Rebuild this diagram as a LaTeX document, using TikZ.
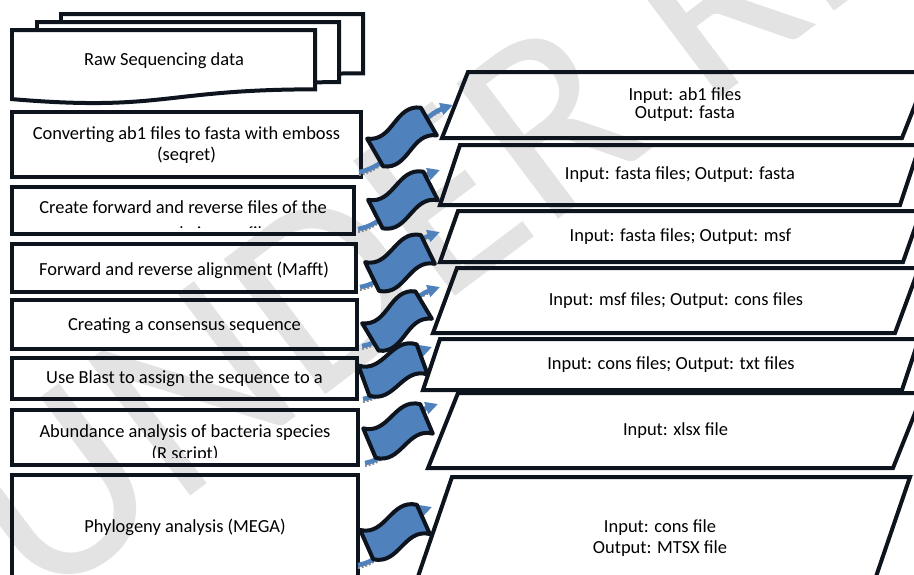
\documentclass[tikz,border=0pt]{standalone}
\usepackage{fontspec}
\setmainfont{Carlito}
\usetikzlibrary{arrows.meta,calc,fit}

\definecolor{flagblue}{RGB}{79,129,189}
\definecolor{inkline}{RGB}{13,20,30}

% one sheet of the stacked document: left, top, right, height
\newcommand\docsheet[4]{\draw[docbox] (#1,#2) -- (#3,#2) -- (#3,#2+0.802*#4) .. controls ({(#1+#3)/2},#2+0.802*#4) and ({(#1+#3)/2},#2+1.107*#4) .. (#1,#2+0.934*#4) -- cycle;}
% slanted in/out box: name, top-left, bottom-left, top length, text
\newcommand\iobox[5]{%
  \coordinate (#1-nw) at (#2);
  \coordinate (#1-sw) at (#3);
  \draw[iobox] (#1-nw) -- ++(#4,0) -- ($(#1-sw)+(#4,0)$) -- (#1-sw) -- cycle;
  \node[proctext] (#1) at ($(#1-nw)!0.5!(#1-sw)+(#4/2,0)$) {#5};}
% wavy banner over a step arrow: centre x, centre y, tilt
\newcommand\waveflag[3]{\draw[flag, shift={(#1,#2)}, rotate=#3] (-31,-16) .. controls (-10,0) and (10,-32) .. (31,-16) -- (31,16) .. controls (10,0) and (-10,32) .. (-31,16) -- cycle;}

\begin{document}
\begin{tikzpicture}[x=0.02cm, y=-0.02cm,
    procbox/.style={draw=inkline, line width=0.08cm, inner sep=0pt, outer sep=0pt},
    proctext/.style={font=\fontsize{10.5}{12}\selectfont, align=center, inner sep=0pt},
    docbox/.style={draw=inkline, fill=white, line width=0.08cm},
    iobox/.style={draw=inkline, line width=0.08cm},
    flag/.style={draw=inkline, fill=flagblue, line width=0.08cm, line join=round},
    steparrow/.style={draw=flagblue, line width=0.09cm, -{Triangle[length=0.25cm,width=0.24cm]}},
    arrowshade/.style={draw=black!45, densely dotted, line width=0.04cm},
    watermark/.style={text=black!11, font=\fontsize{150}{150}\selectfont, rotate=37, anchor=base west, inner sep=0pt}]
  %%%%% START %%%%%
  \useasboundingbox (0,0) rectangle (914,575);
  \clip (0,0) rectangle (914,575);

  \node[watermark] (mark) at (40,610) {UNDER REVIEW};

  % stacked raw data sheets
  \docsheet{61}{14}{363}{74}
  \docsheet{37}{22}{339}{75}
  \docsheet{12}{30}{315}{74}
  \node[proctext] (raw) at (164,61) {Raw Sequencing data};

  % pipeline steps
  \node[procbox, fit={(12,112) (361,177)}] (b1) {};
  \node[proctext] (b1txt) at ($(b1.center)+(0,1)$) {Converting ab1 files to fasta with emboss\\(seqret)};

  \node[procbox, fit={(12,187) (354,234)}] (b2) {};
  \begin{scope}
    \clip ($(b2.south west)+(2,-7)$) rectangle ($(b2.north east)+(-2,2)$);
    \node[proctext] (b2txt) at ($(b2.center)+(0,11)$) {Create forward and reverse files of the\\[0.09cm]same sample in one file};
  \end{scope}

  \node[procbox, fit={(12,244) (356,292)}] (b3) {};
  \node[proctext] (b3txt) at ($(b3.center)+(0,2)$) {Forward and reverse alignment (Mafft)};

  \node[procbox, fit={(12,300) (357,349)}] (b4) {};
  \node[proctext] (b4txt) at ($(b4.center)+(0,1)$) {Creating a consensus sequence};

  \node[procbox, fit={(12,358) (357,399)}] (b5) {};
  \node[proctext] (b5txt) at ($(b5.center)+(0,0)$) {Use Blast to assign the sequence to a};

  \node[procbox, fit={(12,410) (358,465)}] (b6) {};
  \begin{scope}
    \clip ($(b6.south west)+(2,-8)$) rectangle ($(b6.north east)+(-2,2)$);
    \node[proctext] (b6txt) at ($(b6.center)+(0,6)$) {Abundance analysis of bacteria species\\[0.03cm](R script)};
  \end{scope}

  \node[procbox, fit={(12,475) (358,580)}] (b7) {};
  \node[proctext] (b7txt) at (b7.center) {Phylogeny analysis (MEGA)};

  % inputs and outputs
  \iobox{p1}{468,72}{442,138}{460}{Input: ab1 files\\[-0.06cm]Output: fasta}
  \iobox{p2}{460,145}{440,205}{460}{Input: fasta files; Output: fasta}
  \iobox{p3}{458,211}{440,262}{463}{Input: fasta files; Output: msf}
  \iobox{p4}{457,268}{433,333}{462}{Input: msf files; Output: cons files}
  \iobox{p5}{440,339}{423,390}{479}{Input: cons files; Output: txt files}
  \iobox{p6}{458,393}{428,468}{465}{Input: xlsx file}
  \iobox{p7}{452,477}{410,600}{458}{Input: cons file\\Output: MTSX file}

  % step arrows
  \coordinate (t1) at ($(b1.south east)+(-2,-5)$);  \coordinate (h1) at ($(p1-nw)+(-15,33)$);
  \coordinate (t2) at ($(b2.south east)+(4,-5)$);   \coordinate (h2) at ($(p2-nw)+(-20,25)$);
  \coordinate (t3) at ($(b3.south east)+(4,-5)$);   \coordinate (h3) at ($(p3-nw)+(-18,21)$);
  \coordinate (t4) at ($(b4.south east)+(5,-3)$);   \coordinate (h4) at ($(p4-nw)+(-17,19)$);
  \coordinate (t5) at ($(b5.south east)+(6,0)$);    \coordinate (h5) at ($(p5-nw)+(-8,8)$);
  \coordinate (t6) at ($(b6.south east)+(7,-2)$);   \coordinate (h6) at ($(p6-nw)+(-20,11)$);
  \coordinate (t7) at ($(b7.south east)+(0,-15)$);  \coordinate (h7) at ($(p7-nw)+(-20,30)$);

  \draw[arrowshade] ($(t1)+(0,3)$) .. controls +(35,-6) and +(-35,12) .. ($(h1)+(-8,5)$);
  \draw[steparrow] (t1) .. controls +(35,-6) and +(-35,12) .. (h1);
  \waveflag{402}{137}{30}

  \draw[arrowshade] ($(t2)+(0,3)$) .. controls +(35,-6) and +(-35,12) .. ($(h2)+(-8,5)$);
  \draw[steparrow] (t2) .. controls +(35,-6) and +(-35,12) .. (h2);
  \waveflag{403}{200}{27}

  \draw[arrowshade] ($(t3)+(0,3)$) .. controls +(35,-6) and +(-35,12) .. ($(h3)+(-8,5)$);
  \draw[steparrow] (t3) .. controls +(35,-6) and +(-35,12) .. (h3);
  \waveflag{400}{263}{26}

  \draw[arrowshade] ($(t4)+(0,3)$) .. controls +(35,-6) and +(-35,12) .. ($(h4)+(-8,5)$);
  \draw[steparrow] (t4) .. controls +(35,-6) and +(-35,12) .. (h4);
  \waveflag{397}{321}{31}

  \draw[arrowshade] ($(t5)+(0,3)$) .. controls +(35,-6) and +(-35,12) .. ($(h5)+(-8,5)$);
  \draw[steparrow] (t5) .. controls +(35,-6) and +(-35,12) .. (h5);
  \waveflag{393}{370}{20}

  \draw[arrowshade] ($(t6)+(0,3)$) .. controls +(35,-6) and +(-35,12) .. ($(h6)+(-8,5)$);
  \draw[steparrow] (t6) .. controls +(35,-6) and +(-35,12) .. (h6);
  \waveflag{398}{431}{23}

  \draw[arrowshade] ($(t7)+(0,3)$) .. controls +(35,-6) and +(-35,12) .. ($(h7)+(-8,5)$);
  \draw[steparrow] (t7) .. controls +(35,-6) and +(-35,12) .. (h7);
  \waveflag{395}{532}{24}
  %%%%% END %%%%%
\end{tikzpicture}
\end{document}
